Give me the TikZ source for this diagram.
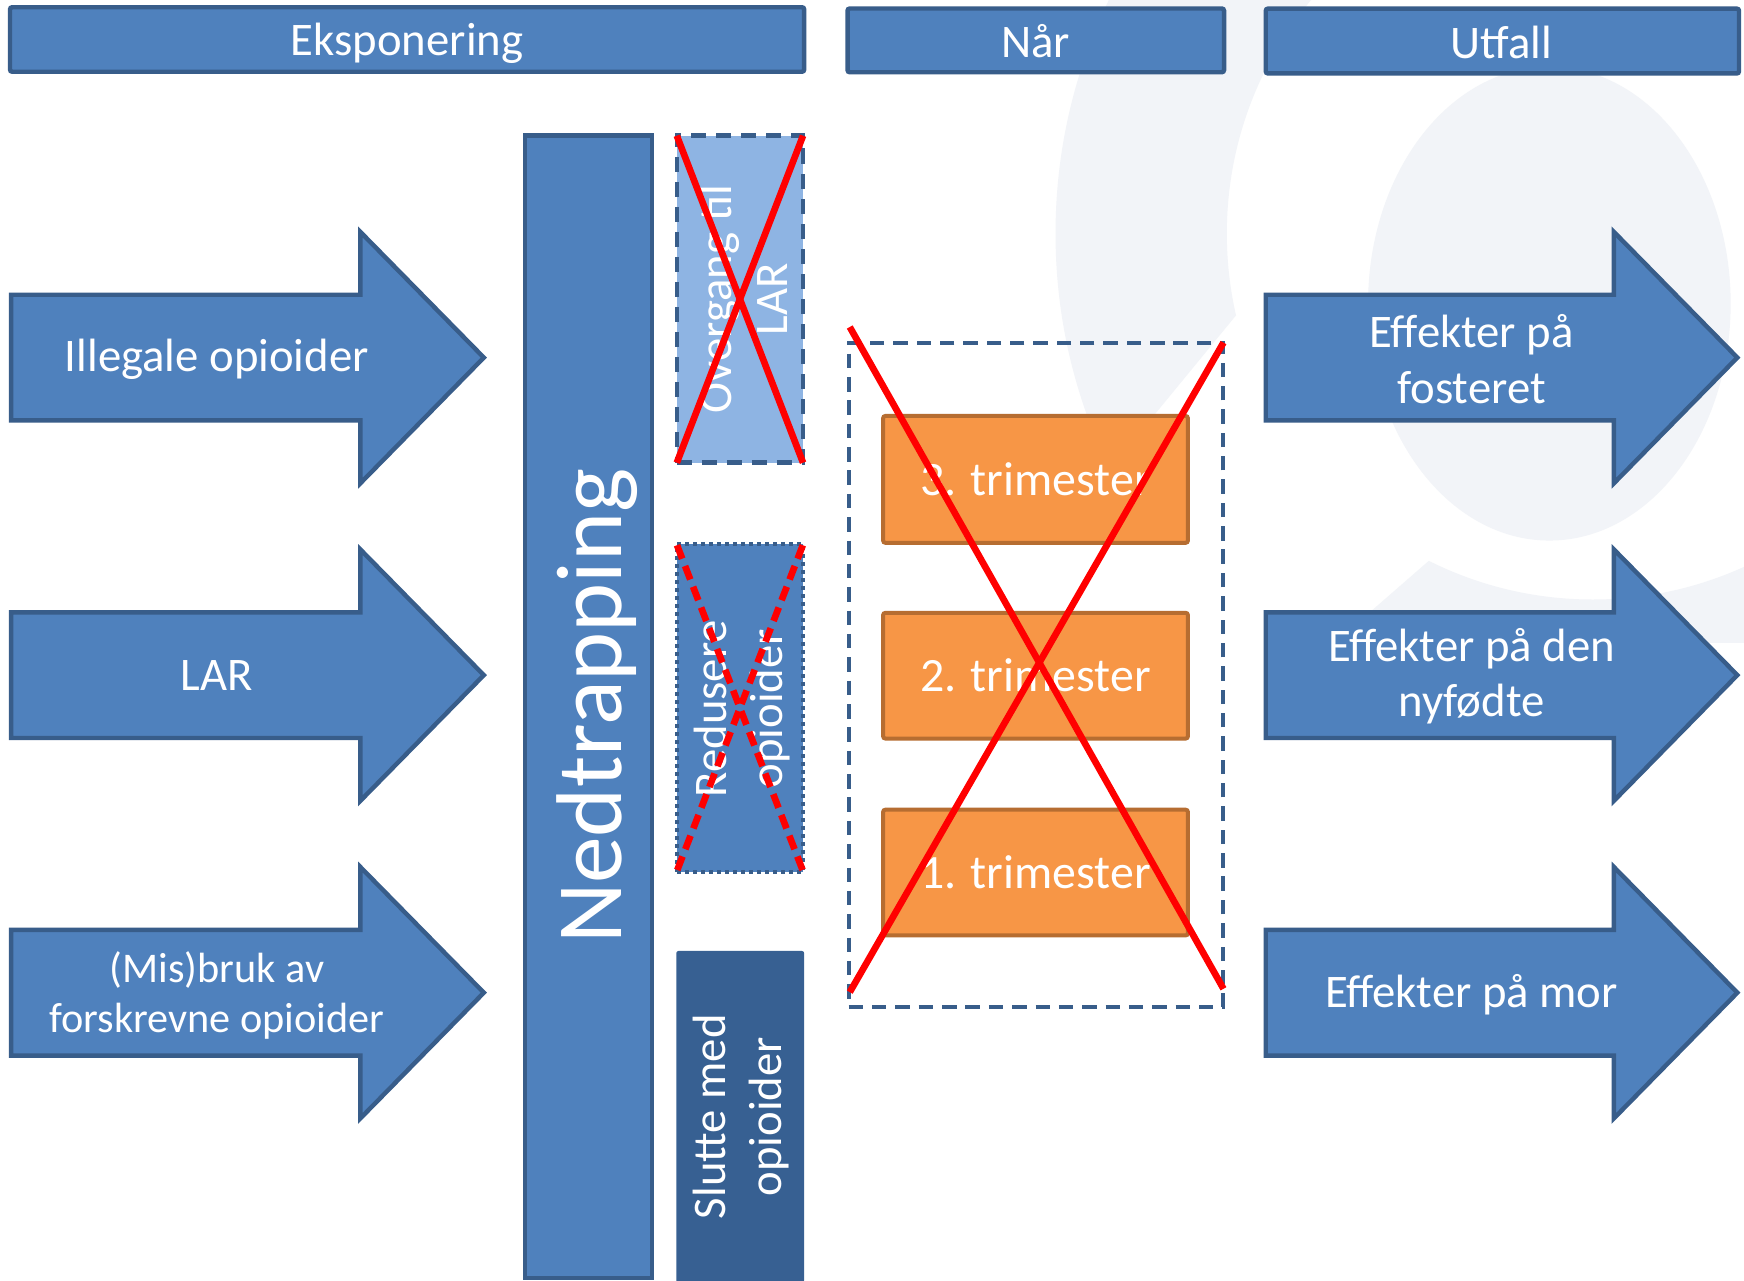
\documentclass[tikz,border=0pt]{standalone}
\usepackage{fontspec}
\setmainfont{Carlito}
\definecolor{bfill}{HTML}{4F81BD}
\definecolor{bline}{HTML}{385D8A}
\definecolor{lfill}{HTML}{8EB4E3}
\definecolor{dfill}{HTML}{376092}
\definecolor{ofill}{HTML}{F79646}
\definecolor{oline}{HTML}{B66D31}
\definecolor{wm}{RGB}{242,244,248}
\definecolor{xred}{RGB}{255,0,0}
\def\pxu{0.5pt}
\tikzset{
  hdr/.style={draw=bline, fill=bfill, line width=2pt, rounded corners=1pt, inner sep=0pt},
  hdrtxt/.style={text=white, inner sep=0pt, font=\fontsize{21}{25}\selectfont},
  arrowbox/.style={draw=bline, fill=bfill, line width=2pt, line join=miter},
  lbl/.style={text=white, align=center, inner sep=0pt, font=\fontsize{21}{25}\selectfont},
  smalllbl/.style={text=white, align=center, inner sep=0pt, font=\fontsize{19}{22.5}\selectfont},
  colbox/.style={fill=bfill, draw=bline, line width=2pt, inner sep=0pt},
  dashbox/.style={fill=lfill, draw=bline, line width=2pt, dash pattern=on 6.75pt off 4.5pt, inner sep=0pt},
  dotbox/.style={fill=bfill, draw=bline, line width=1.8pt, dash pattern=on 1.8pt off 1.8pt, inner sep=0pt},
  darkbox/.style={fill=dfill, draw=none, rounded corners=1pt, inner sep=0pt},
  whenbox/.style={draw=bline, line width=1.8pt, dash pattern=on 6.5pt off 4pt, inner sep=0pt},
  tribox/.style={fill=ofill, draw=oline, line width=1.8pt, rounded corners=1pt, inner sep=0pt,
    text=white, font=\fontsize{21.5}{25}\selectfont},
  redx/.style={draw=xred, line width=3pt},
  redxd/.style={draw=xred, line width=3pt, dash pattern=on 6.5pt off 3.5pt},
}
\newcommand\blkarrow[4]{%
  \draw[arrowbox] (#1,#4-56.5) -- (#2,#4-56.5) -- (#2,#4-113) -- (#3,#4)
    -- (#2,#4+113) -- (#2,#4+56.5) -- (#1,#4+56.5) -- cycle;}
\begin{document}
\begin{tikzpicture}[x=0.5pt,y=-0.5pt]
\useasboundingbox (0,0) rectangle (1568,1151);
\fill[white] (0,0) rectangle (1568,1151);

% faint watermark
\begin{scope}
  \clip (1349,-10) -- (1115,279) -- (1037,374) -- (700,374) -- (700,-10) -- cycle;
  \fill[wm, even odd rule] (1432,210) circle (241.5pt) (1432,210) circle (164.5pt);
\end{scope}
\begin{scope}
  \clip (1620,230) -- (1317,476) -- (1200,578) -- (1620,578) -- cycle;
  \fill[wm, even odd rule] (1432,210) circle (241.5pt) (1432,210) circle (164.5pt);
\end{scope}
\fill[wm] (1393,273) ellipse [x radius=81.5pt, y radius=106.5pt];

% headers
\node[hdr, minimum width=714*\pxu, minimum height=58*\pxu] (hexp) at (366,35.5) {};
\node[hdr, minimum width=338.5*\pxu, minimum height=57.3*\pxu] (hnar) at (931.25,36.3) {};
\node[hdr, minimum width=425.5*\pxu, minimum height=58.3*\pxu] (hutf) at (1350.75,36.9) {};
\node[hdrtxt] (texp) at (366,38.5) {Eksponering};
\node[hdrtxt] (tnar) at (931,37) {Når};
\node[hdrtxt] (tutf) at (1350,38) {Utfall};

% left arrows
\blkarrow{10}{324}{435}{321.5}
\blkarrow{10}{324}{435}{607}
\blkarrow{10}{324}{435}{892.5}
\node[lbl] (illegal) at (195,323) {Illegale opioider};
\node[lbl] (lar) at (195,607) {LAR};
\node[smalllbl] (misbruk) at (195,895) {(Mis)bruk av\\forskrevne opioider};

% Nedtrapping column
\node[colbox, minimum width=114*\pxu, minimum height=1027*\pxu] (ned) at (529,635.5) {};
\node[text=white, inner sep=0pt, rotate=90, font=\fontsize{42}{50}\selectfont] (nedtxt) at (537,635) {Nedtrapping};

% option boxes
\node[dashbox, minimum width=113.5*\pxu, minimum height=294*\pxu] (over) at (665.25,269) {};
\node[lbl, rotate=90] (overtxt) at (668,269) {Overgang til\\LAR};
\draw[redx] ([shift={(2,2)}]over.north west) -- ([shift={(-2,-2)}]over.south east);
\draw[redx] ([shift={(-2,2)}]over.north east) -- ([shift={(2,-2)}]over.south west);

\node[dotbox, minimum width=113.5*\pxu, minimum height=295*\pxu] (red) at (665.25,636.5) {};
\node[lbl, rotate=90] (redtxt) at (667,637) {Redusere\\opioider};
\draw[redxd] ([shift={(2,3)}]red.north west) -- ([shift={(-2,-3)}]red.south east);
\draw[redxd] ([shift={(-2,3)}]red.north east) -- ([shift={(2,-3)}]red.south west);

\node[darkbox, minimum width=115*\pxu, minimum height=298*\pxu] (slutt) at (665.5,1004) {};
\node[lbl, rotate=90] (slutttxt) at (666,1004) {Slutte med\\opioider};

% when
\node[whenbox, minimum width=337*\pxu, minimum height=597*\pxu] (when) at (931.5,606.5) {};
\node[tribox, minimum width=274*\pxu, minimum height=114*\pxu] (t3) at (931,431) {3. trimester};
\node[tribox, minimum width=274*\pxu, minimum height=113*\pxu] (t2) at (931,607.5) {2. trimester};
\node[tribox, minimum width=274*\pxu, minimum height=113*\pxu] (t1) at (931,784.5) {1. trimester};
\coordinate (wa) at (764,294);
\coordinate (wb) at (1100,889);
\coordinate (wc) at (1100,308);
\coordinate (wd) at (764,892);
\draw[redx] (wa) -- (wb);
\draw[redx] (wc) -- (wd);

% right arrows
\blkarrow{1138}{1451}{1562}{321.5}
\blkarrow{1138}{1451}{1562}{607}
\blkarrow{1138}{1451}{1562}{892.5}
\node[lbl] (foster) at (1323,323) {Effekter på\\fosteret};
\node[lbl] (nyfodt) at (1323,608) {Effekter på den\\nyfødte};
\node[lbl] (mor) at (1323,894) {Effekter på mor};
\end{tikzpicture}
\end{document}
